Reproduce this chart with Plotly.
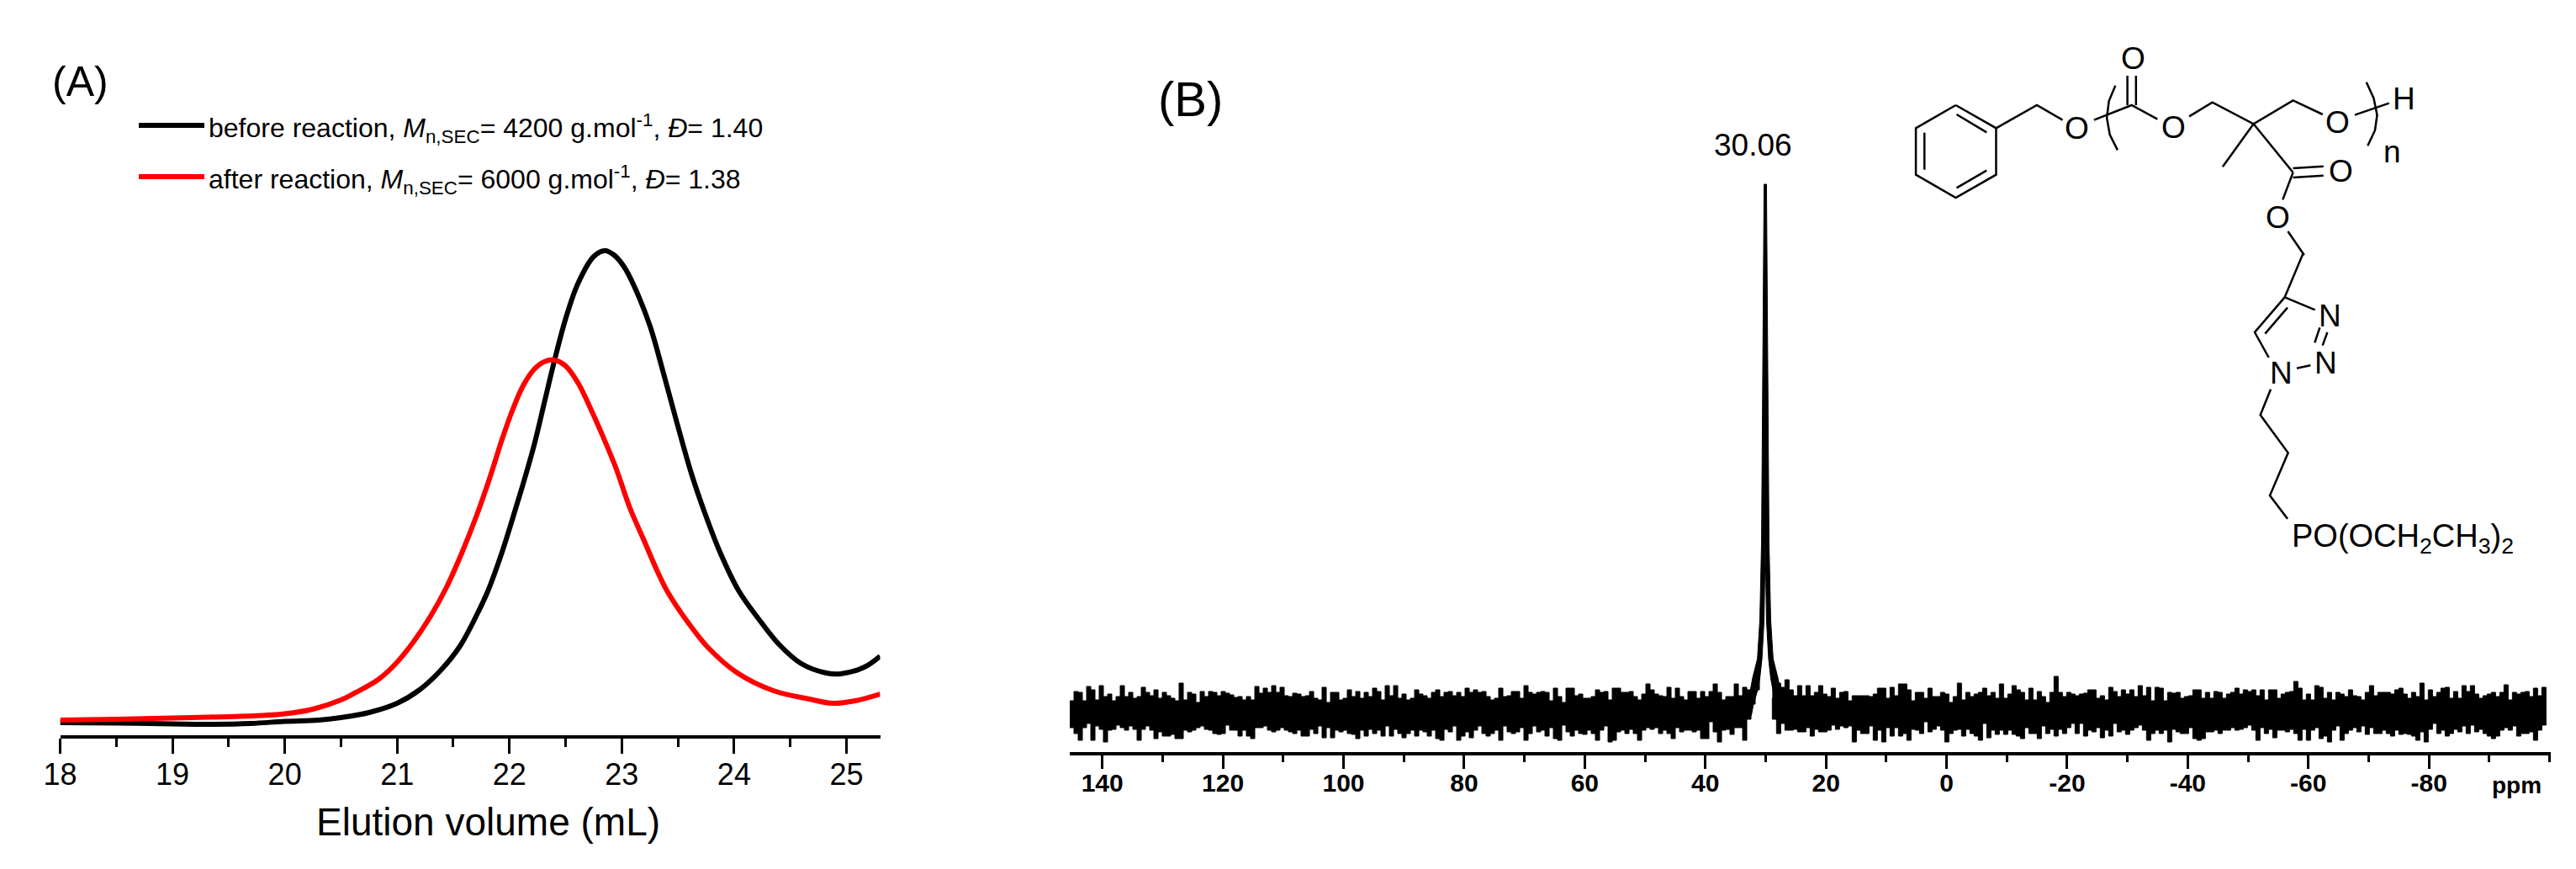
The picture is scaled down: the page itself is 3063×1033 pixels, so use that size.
import numpy as np
import plotly.graph_objects as go

W, H = 3063, 1033

# ---------- Panel A data (x in mL, y = signal height, arbitrary units) ----------
ticks_a = [18, 19, 20, 21, 22, 23, 24, 25]
before_x = [18, 18.5, 19, 19.3, 19.7, 20, 20.3, 20.5, 20.75, 21, 21.2, 21.38, 21.56, 21.72, 21.81, 21.93, 22.02,
            22.12, 22.22, 22.31, 22.40, 22.50, 22.61, 22.75, 22.85, 22.93, 23.02, 23.11, 23.25, 23.37, 23.49,
            23.62, 23.74, 23.87, 24.04, 24.22, 24.40, 24.6, 24.82, 24.95, 25.16, 25.3]
before_y = [15, 14.5, 13.5, 13, 14, 16.5, 18, 21, 27, 38, 54, 76, 106, 146, 172, 216, 254,
            298, 345, 395, 445, 495, 537, 569, 576, 571, 557, 534, 487, 431, 372,
            311, 264, 219, 172, 138, 108, 85, 74, 73, 81, 94]
after_x = [18, 18.5, 19, 19.5, 19.8, 20, 20.25, 20.5, 20.62, 20.83, 20.98, 21.14, 21.30, 21.44, 21.58, 21.71, 21.83,
           21.93, 22.02, 22.12, 22.22, 22.31, 22.40, 22.50, 22.61, 22.72, 22.82, 22.95, 23.07, 23.20, 23.32,
           23.41, 23.59, 23.77, 24.03, 24.35, 24.67, 24.88, 25.08, 25.3]
after_y = [18, 19, 20.5, 22, 23.5, 25.5, 31, 42, 50, 66, 84, 110, 142, 176, 218, 262, 308,
           350, 384, 415, 435, 444, 446, 439, 419, 389, 359, 317, 271, 231, 194,
           170, 134, 104, 74, 53, 43, 38, 41, 49]

# ---------- Panel B data (ppm axis, y = height above the axis, arbitrary units) ----------
ticks_b = [140, 120, 100, 80, 60, 40, 20, 0, -20, -40, -60, -80]
tick_text_b = ["140", "120", "100", "80", "60", "40", "20", "0", "-20", "-40", "-60", "-80"]
step_ppm = 5 / 7.17

noise_left_upper = [61,72,71,61,78,74,62,79,66,69,61,66,79,66,71,64,66,77,71,67,74,64,71,67,64,61,82,62,71,69,59,72,66,72,71,67,72,70,68,65,
    66,62,66,62,78,70,76,71,79,71,77,67,66,70,69,66,67,72,64,62,77,59,71,71,62,64,74,66,72,64,71,66,76,72,62,79,67,79,64,69,
    62,64,74,69,67,64,71,74,66,71,72,67,71,66,76,71,74,71,72,66,
    62,64,76,66,67,72,72,64,79,71,69,71,72,71,61,76,66,59,76,76,67,69,64,64,66,74,71,72,62,76,76,71,71,72,66,62,69,81,74,69,
    67,66,77,64,76,66,62,72,72,64,72,66,72,81,71,62,66,66,81,67,77,74,77,86,94]
noise_left_lower = [31,29,22,14,29,34,14,31,27,12,26,27,32,29,26,31,27,14,27,31,26,16,24,19,19,21,16,16,26,24,26,29,31,27,26,22,21,22,32,26,
    26,19,26,19,16,29,29,31,26,24,26,29,26,24,22,26,19,19,27,22,31,17,29,17,26,24,26,22,21,16,26,19,27,22,26,19,31,19,27,22,
    17,22,26,19,26,24,19,26,16,14,27,24,31,14,19,24,17,26,31,22,
    19,22,26,14,31,24,22,24,29,14,22,31,24,26,19,29,16,14,32,24,19,26,22,21,26,22,14,26,31,12,14,24,26,22,27,22,14,26,29,27,
    29,22,26,22,16,29,24,26,26,24,26,16,16,36,24,12,26,27,21,29,29,14,39,57,74]
noise_right_upper = [91,82,77,86,74,67,79,67,79,67,71,79,69,66,76,64,71,72,61,67,67,67,67,66,69,76,76,64,77,67,81,81,
    74,61,71,71,64,76,66,66,71,69,59,66,82,62,71,66,69,71,76,67,71,64,81,64,69,79,74,71,62,76,62,72,66,59,71,90,71,66,71,69,
    67,69,70,74,74,64,67,62,77,72,66,74,69,74,66,79,67,77,61,77,76,61,71,70,71,64,66,67,74,74,64,71,64,72,71,64,69,71,76,69,
    74,72,74,67,74,62,74,74,64,69,71,72,84,76,62,69,62,79,77,64,
    71,62,71,69,66,74,67,66,62,71,79,67,71,71,71,69,74,76,69,64,71,66,82,62,74,66,71,76,77,64,72,64,79,72,79,69,64,67,69,71,
    66,71,80,62,71,69,71,72,66,76,67,77,62]
noise_right_lower = [64,39,22,34,26,26,27,24,24,29,19,27,24,24,26,32,27,31,29,31,12,26,22,22,31,14,26,12,29,19,29,19,
    22,14,27,26,22,36,24,27,31,26,12,22,26,27,19,27,22,19,14,34,17,26,21,26,21,26,21,19,16,29,22,22,16,31,22,27,19,27,22,29,
    34,22,34,19,26,24,29,17,26,19,34,24,26,21,26,29,32,26,14,22,26,22,26,12,27,24,22,22,29,16,14,16,24,24,26,22,26,26,29,26,
    27,29,32,26,14,29,22,27,17,26,26,24,27,22,14,27,14,26,29,16,
    19,12,26,31,14,22,26,29,24,31,21,29,22,22,26,22,19,26,21,22,21,19,14,24,12,27,34,22,26,19,22,27,24,31,22,32,24,27,22,19,
    16,19,26,29,26,31,19,22,22,24,14,26,32]
peak_center = 30.06
peak_h = [40, 44, 57, 74, 88, 111, 157, 249, 387, 524, 675]
peak_outer = [3.5, 3.3, 2.9, 2.5, 2.1, 1.3, 0.9, 0.62, 0.45, 0.32, 0.2]
peak_inner = [2.65, 2.3, 1.95, 1.25, 0.9, 0.55, 0.2, 0.0, 0.0, 0.0, 0.0]

# ---------- Texts ----------
legend_before = "before reaction, <i>M</i><sub>n,SEC</sub>= 4200 g.mol<sup>-1</sup>, <i>Đ</i>= 1.40"
legend_after = "after reaction, <i>M</i><sub>n,SEC</sub>= 6000 g.mol<sup>-1</sup>, <i>Đ</i>= 1.38"

# ---------- Structure drawing: coordinates taken in page pixels ----------
def a(X, Y):
    return (2250 + X / 1.96, 30 + Y / 3)
def b(X, Y):
    return (2550 + X / 3, 300 + Y / 3)

top_lines = [
    [(148,285),(242,367),(242,533),(148,615),(55,533),(55,367),(148,285)],
    [(150,318),(220,382)], [(220,518),(150,580)], [(75,383),(75,515)],
    [(242,367),(337,285),(397,338)], [(470,338),(558,285),(618,335)],
    [(548,285),(548,180)], [(568,285),(568,180)],
    [(692,325),(746,275),(842,352),(934,268),(1003,318)], [(1078,320),(1158,278)],
    [(842,352),(770,505)], [(842,352),(934,525)],
    [(934,510),(1005,503)], [(934,543),(1005,536)], [(934,525),(910,622)],
    [(922,735),(960,820)],
    [(520,215),(505,270),(500,330),(507,390),(525,445)],
    [(1105,203),(1122,260),(1130,320),(1125,375),(1108,430)],
]
bottom_lines = [
    [(565,5),(500,160),(608,205)], [(625,268),(607,322)], [(652,285),(635,332)],
    [(592,403),(543,413)], [(443,375),(393,285),(500,160)], [(430,290),(510,197)],
    [(450,488),(413,580),(512,715),(447,867),(510,950)],
]
top_labels = [("O",430,367),("O",562,118),("O",655,363),("O",1037,345),("H",1193,262),
              ("O",1045,520),("O",898,685),("n",1165,450)]
bottom_labels = [("N",662,225),("N",645,393),("N",487,430)]

# ---------- Figure ----------
fig = go.Figure()
fig.add_trace(go.Scatter(x=before_x, y=before_y, mode="lines", xaxis="x", yaxis="y",
                         line=dict(color="#000000", width=6, shape="spline", smoothing=1.0)))
fig.add_trace(go.Scatter(x=after_x, y=after_y, mode="lines", xaxis="x", yaxis="y",
                         line=dict(color="#ff0000", width=6, shape="spline", smoothing=1.0)))

def band(start, upper, lower):
    n = min(len(upper), len(lower))
    xs = [start - i * step_ppm for i in range(n)]
    return xs + xs[::-1], list(upper[:n]) + list(lower[:n])[::-1]

for start, up, lo in [(145.4, noise_left_upper, noise_left_lower),
                      (28.9, noise_right_upper, noise_right_lower)]:
    xs, ys = band(start, up, lo)
    fig.add_trace(go.Scatter(x=xs, y=ys, mode="lines", xaxis="x2", yaxis="y2", fill="toself",
                             fillcolor="#000000", line=dict(color="#000000", width=1, shape="hv")))

pk_x = ([peak_center + v for v in peak_outer] + [peak_center - v for v in peak_outer[::-1]]
        + [peak_center - v for v in peak_inner] + [peak_center + v for v in peak_inner[::-1]])
pk_y = peak_h + peak_h[::-1] + peak_h + peak_h[::-1]
fig.add_trace(go.Scatter(x=pk_x, y=pk_y, mode="lines", xaxis="x2", yaxis="y2", fill="toself",
                         fillcolor="#000000", line=dict(color="#000000", width=1)))

seg_x, seg_y = [], []
for f, group in [(a, top_lines), (b, bottom_lines)]:
    for line in group:
        for X, Y in line:
            px, py = f(X, Y)
            seg_x.append(px); seg_y.append(py)
        seg_x.append(None); seg_y.append(None)
fig.add_trace(go.Scatter(x=seg_x, y=seg_y, mode="lines", xaxis="x3", yaxis="y3",
                         line=dict(color="#000000", width=2.5)))
fig.add_trace(go.Scatter(x=[165, 243, None], y=[149, 149, None], mode="lines", xaxis="x3", yaxis="y3",
                         line=dict(color="#000000", width=6)))
fig.add_trace(go.Scatter(x=[165, 243, None], y=[210, 210, None], mode="lines", xaxis="x3", yaxis="y3",
                         line=dict(color="#ff0000", width=6)))

F = "Liberation Sans, Arial, sans-serif"
def note(text, x, y, size, anchor="center", **kw):
    return dict(text=text, x=x, y=y, xref="x3", yref="y3", showarrow=False, xanchor=anchor,
                yanchor="middle", font=dict(family=F, size=size, color="#000000"), **kw)

annotations = [
    note("(A)", 95, 97, 50),
    note("(B)", 1415, 117, 58),
    note(legend_before, 246, 152, 32, "left"),
    note(legend_after, 246, 213, 32, "left"),
    note("Elution volume (mL)", 580, 977, 46),
    note("30.06", 2084, 172, 37),
    note("<b>ppm</b>", 2992, 933, 28),
    note("PO(OCH<sub>2</sub>CH<sub>3</sub>)<sub>2</sub>", 2723, 640, 38, "left"),
]
for t, X, Y in top_labels:
    px, py = a(X, Y)
    annotations.append(note(t, px, py, 37))
for t, X, Y in bottom_labels:
    px, py = b(X, Y)
    annotations.append(note(t, px, py, 37))

fig.update_layout(
    width=W, height=H, margin=dict(l=0, r=0, t=0, b=0), autosize=False, showlegend=False,
    paper_bgcolor="#ffffff", plot_bgcolor="rgba(0,0,0,0)", annotations=annotations, hovermode=False,
    xaxis=dict(domain=[71.5 / W, 1046.5 / W], range=[18, 25.3], anchor="y", tickvals=ticks_a, automargin=False,
               ticks="outside", ticklen=18, tickwidth=3, tickcolor="#000", showline=True, linewidth=4,
               linecolor="#000", showgrid=False, zeroline=False, ticklabelstandoff=-6,
               minor=dict(dtick=0.5, tick0=18, ticks="outside", ticklen=10, tickwidth=3, tickcolor="#000", showgrid=False),
               tickfont=dict(family=F, size=36, color="#000")),
    yaxis=dict(domain=[(H - 874) / H, 1], range=[0, 874], visible=False, anchor="x", automargin=False),
    xaxis2=dict(domain=[1272 / W, 3033 / W], range=[145.4, -100.2], anchor="y2", tickvals=ticks_b, ticktext=tick_text_b,
                automargin=False, ticks="outside", ticklen=16, tickwidth=3, tickcolor="#000", showline=True, linewidth=4,
                linecolor="#000", showgrid=False, zeroline=False, ticklabelstandoff=-9,
                minor=dict(dtick=10, tick0=0, ticks="outside", ticklen=8, tickwidth=3, tickcolor="#000", showgrid=False),
                tickfont=dict(family=F, size=30, color="#000", weight="bold")),
    yaxis2=dict(domain=[(H - 894) / H, 1], range=[0, 894], visible=False, anchor="x2", automargin=False),
    xaxis3=dict(domain=[0, 1], range=[0, W], visible=False, anchor="y3", automargin=False),
    yaxis3=dict(domain=[0, 1], range=[H, 0], visible=False, anchor="x3", automargin=False),
)

fig.write_html("out.html", config=dict(displayModeBar=False),
               post_script="document.body.style.margin='0';document.documentElement.style.overflow='hidden';")
